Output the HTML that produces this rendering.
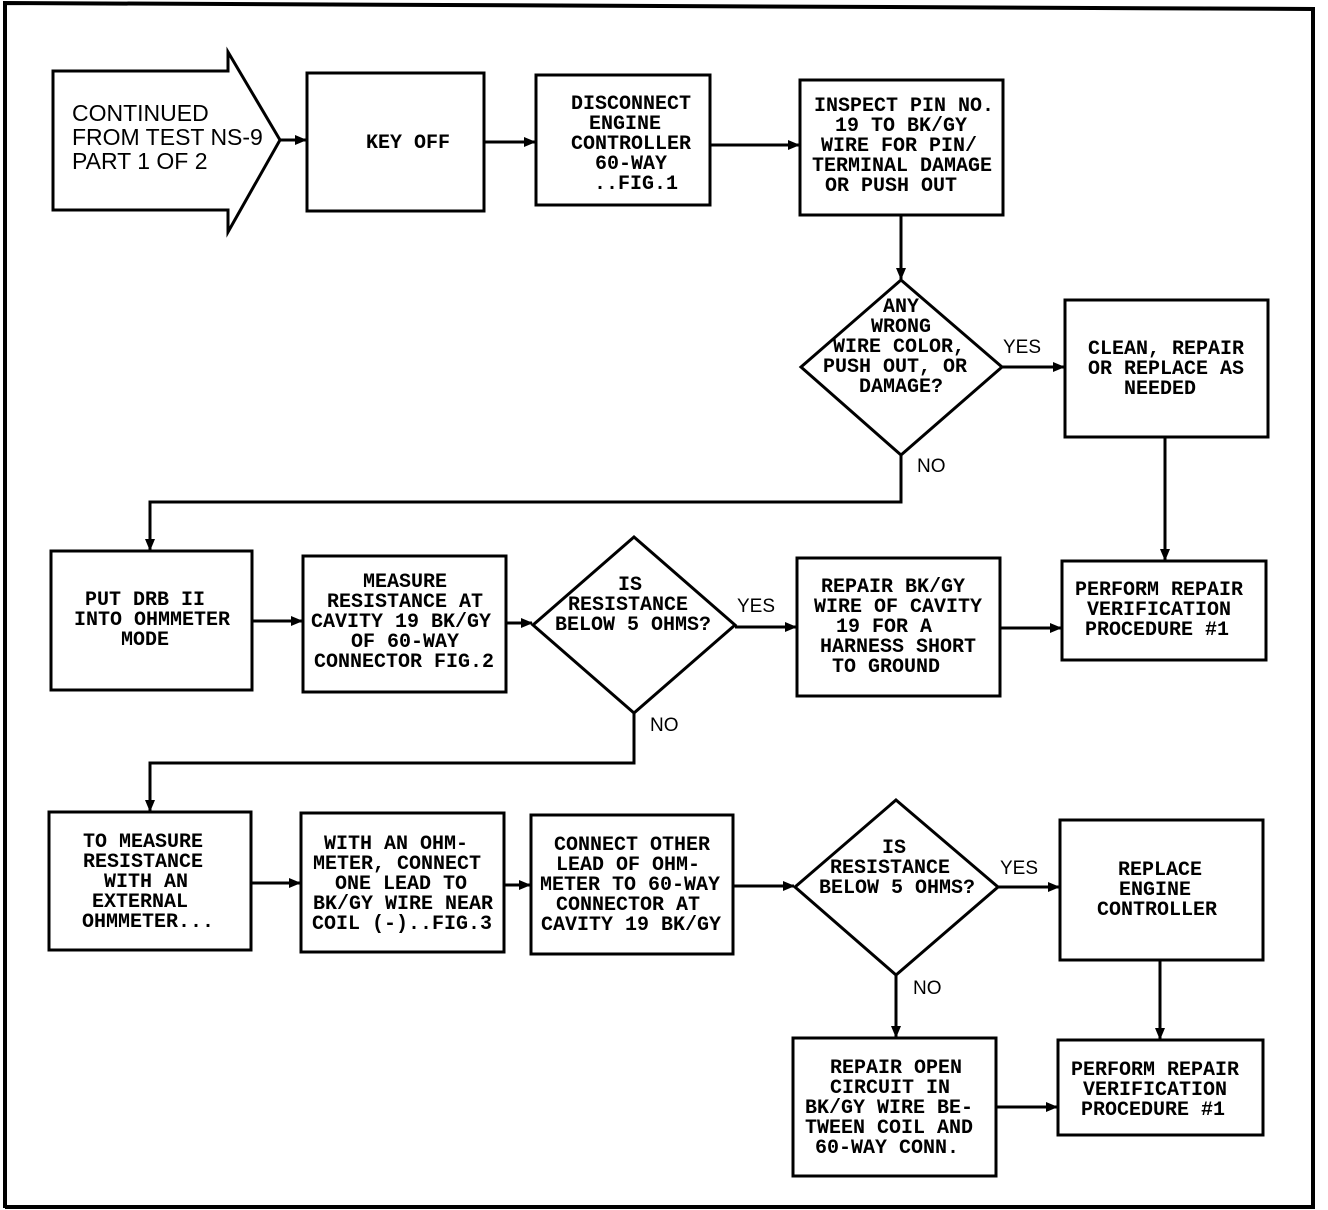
<!DOCTYPE html>
<html><head><meta charset="utf-8"><style>
html,body{margin:0;padding:0;background:#fff}
svg{display:block}
.t{font-family:"Liberation Mono",monospace;font-size:20px;font-weight:bold;text-anchor:middle;fill:#000}
.l{font-family:"Liberation Sans",sans-serif;font-size:19px;fill:#000}
.s{fill:none;stroke:#000;stroke-width:3}
</style></head><body>
<svg width="1328" height="1210" viewBox="0 0 1328 1210" xmlns="http://www.w3.org/2000/svg">
<defs><marker id="a" markerWidth="12" markerHeight="10" refX="11" refY="5" orient="auto" markerUnits="userSpaceOnUse"><path d="M0,0 L12,5 L0,10 Z" fill="#000"/></marker></defs>
<path d="M5,1208 L5,3 L1313,9 L1313,1207 L5,1207" fill="none" stroke="#000" stroke-width="4"/>
<path class="s" d="M53,71 L228,71 L228,52 L280,140 L228,232 L228,210 L53,210 Z"/>
<text class="l" x="72" y="121" style="font-size:23px">CONTINUED</text>
<text class="l" x="72" y="145" style="font-size:23px">FROM TEST NS-9</text>
<text class="l" x="72" y="169" style="font-size:23px">PART 1 OF 2</text>
<line class="s" x1="280" y1="140" x2="306" y2="140" marker-end="url(#a)"/>
<rect class="s" x="307" y="73" width="177" height="138"/>
<text class="t" x="408" y="148">KEY OFF</text>
<line class="s" x1="484" y1="142" x2="535" y2="142" marker-end="url(#a)"/>
<rect class="s" x="536" y="75" width="174" height="130"/>
<text class="t" x="631" y="109">DISCONNECT</text><text class="t" x="625" y="129">ENGINE</text><text class="t" x="631" y="149">CONTROLLER</text><text class="t" x="631" y="169">60-WAY</text><text class="t" x="636" y="189">..FIG.1</text>
<line class="s" x1="710" y1="145" x2="799" y2="145" marker-end="url(#a)"/>
<rect class="s" x="800" y="80" width="203" height="135"/>
<text class="t" x="904" y="111">INSPECT PIN NO.</text><text class="t" x="901" y="131">19 TO BK/GY</text><text class="t" x="899" y="151">WIRE FOR PIN/</text><text class="t" x="902" y="171">TERMINAL DAMAGE</text><text class="t" x="891" y="191">OR PUSH OUT</text>
<line class="s" x1="901" y1="215" x2="901" y2="279" marker-end="url(#a)"/>
<path class="s" d="M901,280 L1002,367 L901,455 L801,367 Z"/>
<text class="t" x="901" y="312">ANY</text><text class="t" x="901" y="332">WRONG</text><text class="t" x="899" y="352">WIRE COLOR,</text><text class="t" x="895" y="372">PUSH OUT, OR</text><text class="t" x="901" y="392">DAMAGE?</text>
<line class="s" x1="1002" y1="367" x2="1064" y2="367" marker-end="url(#a)"/>
<text class="l" x="1003" y="353">YES</text>
<rect class="s" x="1065" y="300" width="203" height="137"/>
<text class="t" x="1166" y="354">CLEAN, REPAIR</text><text class="t" x="1166" y="374">OR REPLACE AS</text><text class="t" x="1160" y="394">NEEDED</text>
<line class="s" x1="1165" y1="437" x2="1165" y2="560" marker-end="url(#a)"/>
<text class="l" x="917" y="472">NO</text>
<path class="s" d="M901,455 L901,502 L150,502 L150,550" marker-end="url(#a)"/>
<rect class="s" x="51" y="551" width="201" height="139"/>
<text class="t" x="145" y="605">PUT DRB II</text><text class="t" x="152" y="625">INTO OHMMETER</text><text class="t" x="145" y="645">MODE</text>
<line class="s" x1="252" y1="621" x2="302" y2="621" marker-end="url(#a)"/>
<rect class="s" x="303" y="556" width="203" height="136"/>
<text class="t" x="405" y="587">MEASURE</text><text class="t" x="405" y="607">RESISTANCE AT</text><text class="t" x="401" y="627">CAVITY 19 BK/GY</text><text class="t" x="405" y="647">OF 60-WAY</text><text class="t" x="404" y="667">CONNECTOR FIG.2</text>
<line class="s" x1="506" y1="623" x2="532" y2="623" marker-end="url(#a)"/>
<path class="s" d="M634,537 L735,625 L634,713 L533,625 Z"/>
<text class="t" x="630" y="590">IS</text><text class="t" x="628" y="610">RESISTANCE</text><text class="t" x="633" y="630">BELOW 5 OHMS?</text>
<line class="s" x1="735" y1="627" x2="796" y2="627" marker-end="url(#a)"/>
<text class="l" x="737" y="612">YES</text>
<rect class="s" x="797" y="558" width="203" height="138"/>
<text class="t" x="893" y="592">REPAIR BK/GY</text><text class="t" x="898" y="612">WIRE OF CAVITY</text><text class="t" x="884" y="632">19 FOR A</text><text class="t" x="898" y="652">HARNESS SHORT</text><text class="t" x="886" y="672">TO GROUND</text>
<line class="s" x1="1000" y1="628" x2="1061" y2="628" marker-end="url(#a)"/>
<rect class="s" x="1062" y="561" width="204" height="99"/>
<text class="t" x="1159" y="595">PERFORM REPAIR</text><text class="t" x="1159" y="615">VERIFICATION</text><text class="t" x="1157" y="635">PROCEDURE #1</text>
<text class="l" x="650" y="731">NO</text>
<path class="s" d="M634,713 L634,763 L150,763 L150,811" marker-end="url(#a)"/>
<rect class="s" x="49" y="812" width="202" height="138"/>
<text class="t" x="143" y="847">TO MEASURE</text><text class="t" x="143" y="867">RESISTANCE</text><text class="t" x="146" y="887">WITH AN</text><text class="t" x="140" y="907">EXTERNAL</text><text class="t" x="148" y="927">OHMMETER...</text>
<line class="s" x1="251" y1="883" x2="300" y2="883" marker-end="url(#a)"/>
<rect class="s" x="301" y="813" width="203" height="139"/>
<text class="t" x="396" y="849">WITH AN OHM-</text><text class="t" x="397" y="869">METER, CONNECT</text><text class="t" x="401" y="889">ONE LEAD TO</text><text class="t" x="403" y="909">BK/GY WIRE NEAR</text><text class="t" x="402" y="929">COIL (-)..FIG.3</text>
<line class="s" x1="504" y1="885" x2="530" y2="885" marker-end="url(#a)"/>
<rect class="s" x="531" y="815" width="202" height="139"/>
<text class="t" x="632" y="850">CONNECT OTHER</text><text class="t" x="628" y="870">LEAD OF OHM-</text><text class="t" x="630" y="890">METER TO 60-WAY</text><text class="t" x="628" y="910">CONNECTOR AT</text><text class="t" x="631" y="930">CAVITY 19 BK/GY</text>
<line class="s" x1="733" y1="886" x2="794" y2="886" marker-end="url(#a)"/>
<path class="s" d="M896,800 L998,887 L896,975 L795,887 Z"/>
<text class="t" x="894" y="853">IS</text><text class="t" x="890" y="873">RESISTANCE</text><text class="t" x="897" y="893">BELOW 5 OHMS?</text>
<line class="s" x1="998" y1="887" x2="1059" y2="887" marker-end="url(#a)"/>
<text class="l" x="1000" y="874">YES</text>
<rect class="s" x="1060" y="820" width="203" height="140"/>
<text class="t" x="1160" y="875">REPLACE</text><text class="t" x="1155" y="895">ENGINE</text><text class="t" x="1157" y="915">CONTROLLER</text>
<line class="s" x1="1160" y1="960" x2="1160" y2="1039" marker-end="url(#a)"/>
<rect class="s" x="1058" y="1040" width="205" height="95"/>
<text class="t" x="1155" y="1075">PERFORM REPAIR</text><text class="t" x="1155" y="1095">VERIFICATION</text><text class="t" x="1153" y="1115">PROCEDURE #1</text>
<text class="l" x="913" y="994">NO</text>
<line class="s" x1="896" y1="975" x2="896" y2="1037" marker-end="url(#a)"/>
<rect class="s" x="793" y="1038" width="203" height="138"/>
<text class="t" x="896" y="1073">REPAIR OPEN</text><text class="t" x="890" y="1093">CIRCUIT IN</text><text class="t" x="889" y="1113">BK/GY WIRE BE-</text><text class="t" x="889" y="1133">TWEEN COIL AND</text><text class="t" x="887" y="1153">60-WAY CONN.</text>
<line class="s" x1="996" y1="1107" x2="1057" y2="1107" marker-end="url(#a)"/>
</svg>
</body></html>
